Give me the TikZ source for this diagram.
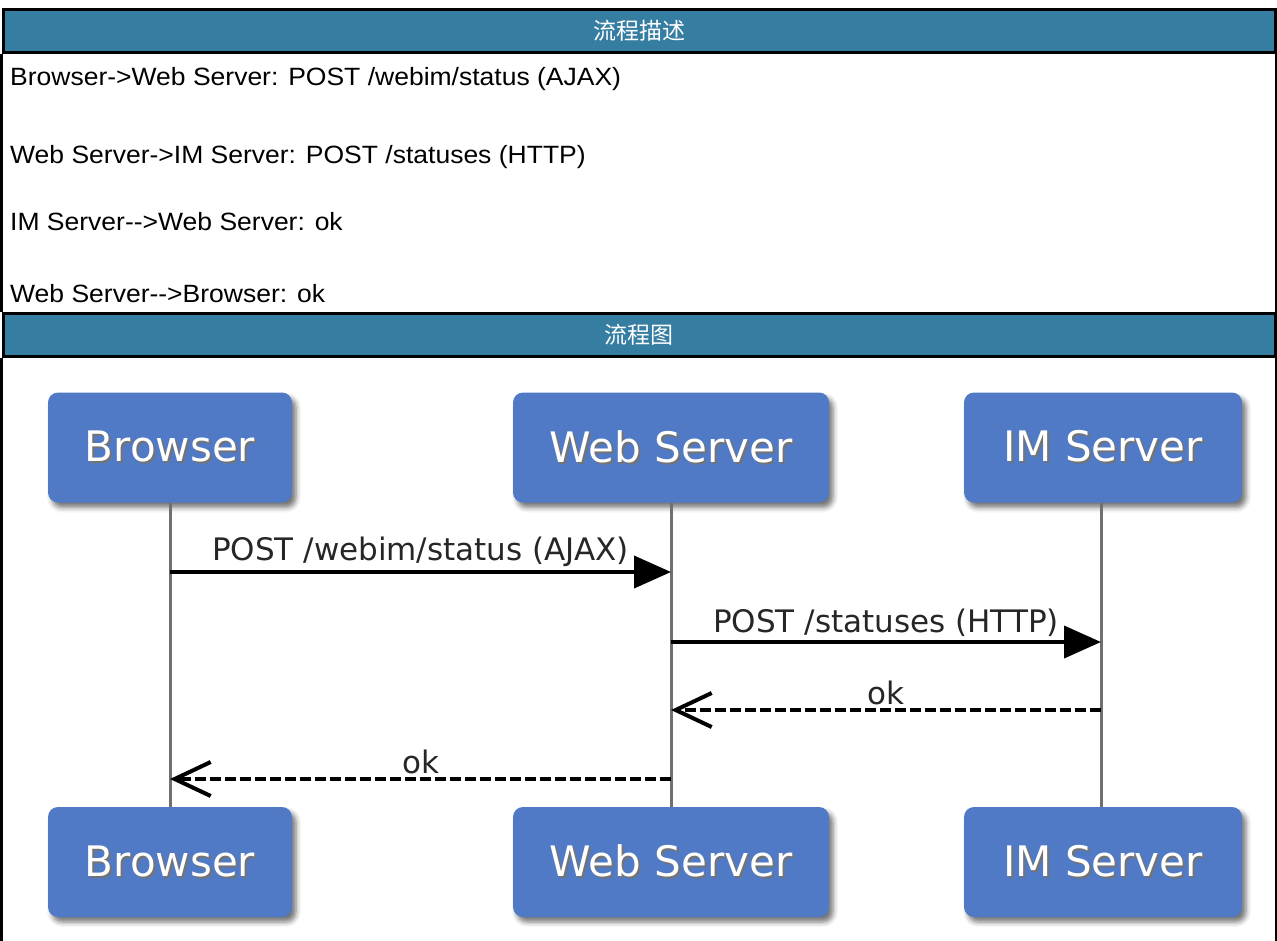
\documentclass[tikz,border=0pt]{standalone}
\usepackage{fontspec}
\setmainfont{Liberation Sans}
\newfontfamily\cjk{Noto Sans CJK SC}
\newfontfamily\seqfont{DejaVu Sans}
\newfontfamily\rowfont[FakeStretch=1.06]{Liberation Sans}
\usetikzlibrary{arrows.meta,shadows.blur}

\definecolor{hdrblue}{RGB}{54,125,162}
\definecolor{boxblue}{RGB}{80,122,198}
\definecolor{lifegray}{RGB}{112,112,112}
\newcommand{\shtext}[1]{\makebox[0pt][l]{\kern2pt\raisebox{-2pt}{\color{black!55}#1}}#1}

\begin{document}
\begin{tikzpicture}[x=1pt,y=-1pt,
  hdrbar/.style={draw=black,line width=3pt,fill=hdrblue,text=white,minimum width=1272pt,minimum height=43pt,font=\cjk\fontsize{23}{23}\selectfont},
  border/.style={draw=black,line width=3pt},
  rowtext/.style={anchor=base west,inner sep=0pt,font=\rowfont\fontsize{25}{25}\selectfont},
  actor/.style={rounded corners=10pt,fill=boxblue,minimum height=110pt,text=white,font=\seqfont\fontsize{42}{42}\selectfont,
    blur shadow={shadow xshift=4pt,shadow yshift=-5pt,shadow blur radius=5pt,shadow opacity=55}},
  lifeline/.style={draw=lifegray,line width=3pt},
  msg/.style={line width=4pt,-{Triangle[length=37pt,width=32pt]}},
  reply/.style={line width=4pt,dash pattern=on 11pt off 4pt,-{Straight Barb[length=36pt,width=34pt,line width=4pt]}},
  msglabel/.style={above,inner sep=3pt,text=black!85,font=\seqfont\fontsize{31}{31}\selectfont}]
\useasboundingbox (0,0) rectangle (1277,940);

% table
\node[hdrbar] (hdrDesc) at (639,30.5) {流程描述};
\node[hdrbar] (hdrFlow) at (639,334.5) {流程图};
\draw[border] (hdrDesc.south west) -- (hdrFlow.north west);
\draw[border] (hdrDesc.south east) -- (hdrFlow.north east);
\draw[border] (hdrFlow.south west) -- (hdrFlow.south west |- 0,945);
\draw[border] (hdrFlow.south east) -- (hdrFlow.south east |- 0,945);

\node[rowtext] (row1) at (10,85) {Browser->Web Server: POST /webim/status (AJAX)};
\node[rowtext] (row2) at (10,163) {Web Server->IM Server: POST /statuses (HTTP)};
\node[rowtext] (row3) at (10,230) {IM Server-->Web Server: ok};
\node[rowtext] (row4) at (10,302) {Web Server-->Browser: ok};

% actors
\node[actor,minimum width=244pt] (browserTop) at (170,447.5) {\shtext{Browser}};
\node[actor,minimum width=316pt] (webTop) at (671,447.5) {\shtext{Web Server}};
\node[actor,minimum width=278pt] (imTop) at (1103,447.5) {\shtext{IM Server}};
\node[actor,minimum width=244pt] (browserBot) at (170,862) {\shtext{Browser}};
\node[actor,minimum width=316pt] (webBot) at (671,862) {\shtext{Web Server}};
\node[actor,minimum width=278pt] (imBot) at (1103,862) {\shtext{IM Server}};

\draw[lifeline] (browserTop) -- (browserBot);
\draw[lifeline] (webTop) -- (webBot);
\draw[lifeline] ([xshift=-2pt]imTop.south) -- ([xshift=-2pt]imBot.north);

% messages
\draw[msg] (browserTop |- 0,572) -- node[msglabel] (lblPost) {POST /webim/status (AJAX)} (webTop |- 0,572);
\draw[msg] (webTop |- 0,642) -- node[msglabel] (lblStatuses) {POST /statuses (HTTP)} ([xshift=-2pt]imTop |- 0,642);
\draw[reply] ([xshift=-2pt]imTop |- 0,710) -- node[msglabel] (lblOkWeb) {ok} (webTop |- 0,710);
\draw[reply] (webTop |- 0,779) -- node[msglabel] (lblOkBrowser) {ok} (browserTop |- 0,779);
\end{tikzpicture}
\end{document}
